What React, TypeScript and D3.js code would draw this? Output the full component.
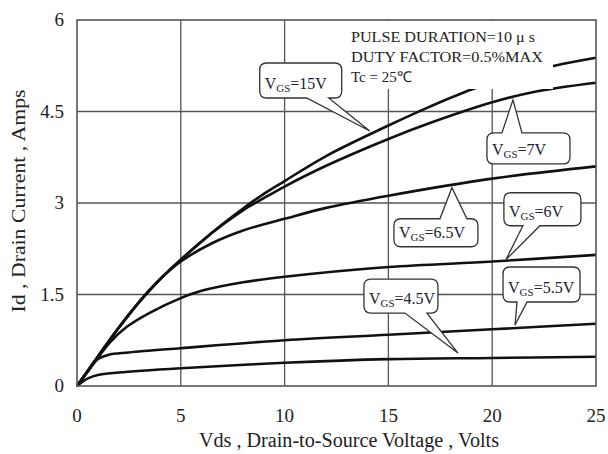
import React from "react";
import * as d3 from "d3";

// Output characteristics, Id (A) vs Vds (V)
const vds15 = [0, 1, 2, 3, 4, 5, 6, 7, 8, 9, 10, 12, 15, 17, 19, 21, 23, 25];
const id15 = [0, 0.48, 0.95, 1.38, 1.75, 2.07, 2.37, 2.65, 2.91, 3.15, 3.36, 3.77, 4.27, 4.58, 4.86, 5.08, 5.25, 5.38];

const vds7 = [0, 1, 2, 3, 4, 5, 6, 7, 8, 9, 10, 12, 15, 17, 20, 22, 25];
const id7 = [0, 0.48, 0.95, 1.38, 1.75, 2.07, 2.37, 2.64, 2.88, 3.08, 3.27, 3.61, 4.05, 4.31, 4.65, 4.82, 4.97];

const vds65 = [0, 1, 2, 3, 4, 5, 6.5, 8, 10, 12, 15, 20, 25];
const id65 = [0, 0.48, 0.95, 1.38, 1.75, 2.04, 2.34, 2.55, 2.74, 2.92, 3.12, 3.4, 3.6];

const vds6 = [0, 1, 1.6, 2.4, 3.5, 5, 6, 8, 10, 15, 20, 25];
const id6 = [0, 0.46, 0.72, 0.97, 1.2, 1.44, 1.56, 1.7, 1.79, 1.95, 2.04, 2.15];

const vds55 = [0, 0.5, 1, 1.5, 2.5, 5, 10, 15, 20, 25];
const id55 = [0, 0.23, 0.44, 0.51, 0.55, 0.62, 0.75, 0.84, 0.93, 1.02];

const vds45 = [0, 0.5, 1, 2, 5, 10, 15, 20, 25];
const id45 = [0, 0.12, 0.18, 0.22, 0.29, 0.38, 0.44, 0.46, 0.48];

const xTicks = [0, 5, 10, 15, 20, 25];
const yTicks = [0, 1.5, 3, 4.5, 6];
const yTickLabels = ["0", "1.5", "3", "4.5", "6"];

const conditions = ["PULSE DURATION=10 \u03bc s", "DUTY FACTOR=0.5%MAX", "Tc = 25\u2103"];

const width = 608;
const height = 454;
const serif = "'Liberation Serif', 'Times New Roman', serif";

const x = d3.scaleLinear().domain([0, 25]).range([77, 596]);
const y = d3.scaleLinear().domain([0, 6]).range([386, 20]);

const series = [
  { vds: vds15, id: id15 },
  { vds: vds7, id: id7 },
  { vds: vds65, id: id65 },
  { vds: vds6, id: id6 },
  { vds: vds55, id: id55 },
  { vds: vds45, id: id45 },
];

// callouts: tip in data units, box relative to tip in px
const callouts = [
  { gs: "15V", tip: [14.1, 4.18], side: "bottom", box: [-110, -68, -28, -33], base: [-63, -41] },
  { gs: "7V", tip: [21.0, 4.69], side: "top", box: [-26, 33, 57, 64], base: [-11, 9] },
  { gs: "6.5V", tip: [18.06, 3.25], side: "top", box: [-58, 31, 26, 59], base: [-12, 15] },
  { gs: "6V", tip: [20.66, 2.07], side: "bottom", box: [-2, -67, 75, -34], base: [17, 34] },
  { gs: "5.5V", tip: [21.1, 1.0], side: "bottom", box: [-12, -58, 65, -23], base: [2, 12] },
  { gs: "4.5V", tip: [18.35, 0.54], side: "bottom", box: [-94, -74, -20, -40], base: [-53, -31] },
];

function calloutPath(tx: number, ty: number, c: any) {
  const [bx0, by0, bx1, by1] = c.box;
  const x0 = tx + bx0, y0 = ty + by0, x1 = tx + bx1, y1 = ty + by1;
  const a = tx + c.base[0], b = tx + c.base[1];
  const r = 7;
  if (c.side === "bottom") {
    return `M${x0 + r},${y0} H${x1 - r} Q${x1},${y0} ${x1},${y0 + r} V${y1 - r} Q${x1},${y1} ${x1 - r},${y1} H${b} L${tx},${ty} L${a},${y1} H${x0 + r} Q${x0},${y1} ${x0},${y1 - r} V${y0 + r} Q${x0},${y0} ${x0 + r},${y0} Z`;
  }
  return `M${x0 + r},${y0} H${a} L${tx},${ty} L${b},${y0} H${x1 - r} Q${x1},${y0} ${x1},${y0 + r} V${y1 - r} Q${x1},${y1} ${x1 - r},${y1} H${x0 + r} Q${x0},${y1} ${x0},${y1 - r} V${y0 + r} Q${x0},${y0} ${x0 + r},${y0} Z`;
}

const App = () => {
  const line = d3
    .line<[number, number]>()
    .x((d) => x(d[0]))
    .y((d) => y(d[1]))
    .curve(d3.curveCatmullRom.alpha(0.5));

  return (
    <svg
      width={width}
      height={height}
      style={{ position: "absolute", left: 0, top: 0, background: "white", fontFamily: serif }}
    >
      {/* grid */}
      {xTicks.slice(1, -1).map((t) => (
        <line key={"gx" + t} x1={x(t)} x2={x(t)} y1={y(6)} y2={y(0)} stroke="#555" strokeWidth={1.3} />
      ))}
      {yTicks.slice(1, -1).map((t) => (
        <line key={"gy" + t} x1={x(0)} x2={x(25)} y1={y(t)} y2={y(t)} stroke="#555" strokeWidth={1.3} />
      ))}

      {/* curves */}
      {series.map((s, i) => (
        <path
          key={i}
          d={line(s.vds.map((v, j) => [v, s.id[j]]) as [number, number][]) || ""}
          fill="none"
          stroke="#111"
          strokeWidth={2.6}
        />
      ))}

      {/* test conditions */}
      <rect x={344} y={21} width={209} height={68} fill="white" />
      {conditions.map((t, i) => (
        <text key={t} x={351} y={42 + i * 20} fontSize={15} fill="#222" textLength={i === 2 ? undefined : i === 0 ? 184 : 192} lengthAdjust="spacingAndGlyphs">
          {t}
        </text>
      ))}

      {/* callouts */}
      {callouts.map((c) => {
        const tx = x(c.tip[0]);
        const ty = y(c.tip[1]);
        return (
          <g key={c.gs}>
            <path d={calloutPath(tx, ty, c)} fill="white" stroke="#333" strokeWidth={1.3} />
            <text x={tx + c.box[0] + 5} y={ty + c.box[3] - 9} fontSize={16} fill="#223">
              V<tspan fontSize={11} dy={3}>GS</tspan>
              <tspan dy={-3}>={c.gs}</tspan>
            </text>
          </g>
        );
      })}

      {/* frame */}
      <rect x={x(0)} y={y(6)} width={x(25) - x(0)} height={y(0) - y(6)} fill="none" stroke="#555" strokeWidth={1.6} />

      {/* ticks */}
      {yTicks.map((t, i) => (
        <text key={"yt" + t} x={64} y={y(t) + 6} fontSize={19} textAnchor="end" fill="#222">
          {yTickLabels[i]}
        </text>
      ))}
      {xTicks.map((t) => (
        <text key={"xt" + t} x={x(t)} y={422} fontSize={19} textAnchor="middle" fill="#222">
          {t}
        </text>
      ))}

      {/* axis titles */}
      <text x={349} y={447} fontSize={20} textAnchor="middle" fill="#222" textLength={300} lengthAdjust="spacingAndGlyphs">
        Vds , Drain-to-Source Voltage , Volts
      </text>
      <text transform={`translate(25,${201}) rotate(-90)`} fontSize={19} textAnchor="middle" fill="#222" textLength={223} lengthAdjust="spacingAndGlyphs">
        Id , Drain Current , Amps
      </text>
    </svg>
  );
};

export default App;
